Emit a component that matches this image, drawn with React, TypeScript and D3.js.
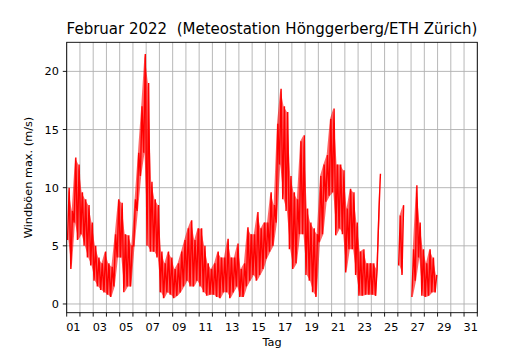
import React from 'react';
import * as d3 from 'd3';

// Day boundaries (Feb 1 = 1 ... Mar 4 = 32), labelled days, y ticks
const dayTicks: number[] = d3.range(1, 33);
const labelDays: number[] = d3.range(1, 32, 2);
const yTicks: number[] = [0, 5, 10, 15, 20];

// Wind gust envelope, 4 bins per day (00-06, 06-12, 12-18, 18-24 h), Feb 1 .. Feb 28
const gustLow: (number | null)[] = [
  5.5, 3, 7, 5.5,
  6, 5, 4, 3.3,
  2, 1.5, 1.2, 1,
  0.8, 0.6, 1.5, 4,
  4, 1, 1.5, 1.5,
  5, 8, 11, 13,
  5, 4.5, 4.5, 4,
  1, 0.5, 1, 0.8,
  0.5, 0.7, 1, 1.5,
  2, 1.5, 1.5, 2,
  1.5, 1, 0.7, 0.8,
  0.8, 0.6, 0.5, 1,
  1, 0.5, 1, 1.5,
  0.6, 0.6, 1.5, 2,
  2.5, 2, 2.5, 3,
  3.9, 4.5, 5, 7,
  12, 9, 8, 4.7,
  3, 3.5, 6, 6,
  2.5, 2, 1, 0.6,
  5.3, 6, 8.8, 9.3,
  9.6, 5.9, 6.5, 6,
  2.7, 4.7, 4.7, 2.5,
  0.7, 0.7, 0.8, 0.8,
  0.8, 0.7, 7.6, null,
  null, null, null, null,
  3.3, 2.5, null, null,
  0.6, 2, 4, 0.7,
  0.6, 0.7, 1, 1,
];
const gustHigh: (number | null)[] = [
  10, 8, 12.6, 12,
  9.6, 9, 8.5, 7,
  5, 4, 3.5, 4.5,
  3.5, 3.2, 6, 9,
  8.7, 6, 5.9, 5,
  9, 13, 17, 21.5,
  19, 10.5, 9, 8.5,
  4.5, 3.5, 4.5, 4,
  3, 3.5, 4.5, 5.5,
  6.5, 7.2, 5.5, 6.5,
  6.5, 5, 3.5, 3,
  3.5, 4.5, 4, 4,
  5.6, 4, 4, 5.2,
  3, 3.5, 6.6, 6,
  6, 7.9, 6.5, 7,
  7, 9.6, 8.5, 15.5,
  18.5, 17, 16.5, 11,
  9.6, 9, 14, 14.5,
  8.2, 7, 6.5, 6,
  11, 12, 12.8, 15.9,
  16.8, 12, 12, 11.5,
  8.2, 9.9, 9.6, 7,
  4.5, 4.7, 3.5, 3.5,
  3.5, 3, 11.2, null,
  null, null, null, null,
  7.6, 8.5, null, null,
  4.7, 10.2, 7, 4.7,
  3.5, 4.7, 4, 2.5,
];

type Bin = { t: number; lo: number | null; hi: number | null };
type Pt = { t: number; v: number | null };

export default function App() {
  const W = 530, H = 350;
  const left = 66.7, right = 477.3, top = 42.3, bottom = 312.7;
  const x = d3.scaleLinear().domain([1, 32]).range([left, right]);
  const y = d3.scaleLinear().domain([-0.75, 22.5]).range([bottom, top]);

  const bins: Bin[] = gustLow.map((lo, i) => ({ t: 1 + i * 0.25 + 0.125, lo, hi: gustHigh[i] }));
  const pts: Pt[] = [];
  gustLow.forEach((lo, i) => {
    const t = 1 + i * 0.25;
    pts.push({ t: t + 0.0625, v: lo });
    pts.push({ t: t + 0.1875, v: gustHigh[i] });
  });
  const line = d3
    .line<Pt>()
    .defined((d) => d.v != null)
    .x((d) => x(d.t))
    .y((d) => y(d.v as number));
  const band = d3
    .area<Bin>()
    .defined((d) => d.lo != null && d.hi != null)
    .x((d) => x(d.t))
    .y0((d) => y(d.lo as number))
    .y1((d) => y(d.hi as number));

  const font = "'DejaVu Sans', sans-serif";
  const grid = '#b0b0b0';

  return (
    <div style={{ position: 'fixed', left: 0, top: 0 }}>
      <svg width={W} height={H} viewBox={`0 0 ${W} ${H}`} style={{ display: 'block', background: '#fff' }}>
        <rect x={0} y={0} width={W} height={H} fill="#fff" />
        <defs>
          <clipPath id="plotclip">
            <rect x={left} y={top} width={right - left} height={bottom - top} />
          </clipPath>
        </defs>
        {/* grid */}
        {dayTicks.map((d) => (
          <line key={'gx' + d} x1={x(d)} x2={x(d)} y1={top} y2={bottom} stroke={grid} strokeWidth={0.9} />
        ))}
        {yTicks.map((v) => (
          <line key={'gy' + v} x1={left} x2={right} y1={y(v)} y2={y(v)} stroke={grid} strokeWidth={0.9} />
        ))}
        {/* data */}
        <g clipPath="url(#plotclip)">
          <path d={band(bins) || ''} fill="#ff0000" fillOpacity={0.6} stroke="none" />
          <path d={line(pts) || ''} fill="none" stroke="#ff0000" strokeWidth={1.4} strokeLinejoin="miter" />
        </g>
        {/* spines */}
        <rect x={left} y={top} width={right - left} height={bottom - top} fill="none" stroke="#000" strokeWidth={0.9} />
        {/* x ticks */}
        {dayTicks.map((d) => (
          <line key={'tx' + d} x1={x(d)} x2={x(d)} y1={bottom} y2={bottom + 3.9} stroke="#000" strokeWidth={0.9} />
        ))}
        {labelDays.map((d) => (
          <text key={'lx' + d} x={x(d + 0.5)} y={331} textAnchor="middle" fontFamily={font} fontSize={11.3} fill="#000">
            {d3.format('02d')(d)}
          </text>
        ))}
        {/* y ticks */}
        {yTicks.map((v) => (
          <g key={'ty' + v}>
            <line x1={left - 3.9} x2={left} y1={y(v)} y2={y(v)} stroke="#000" strokeWidth={0.9} />
            <text x={left - 7.8} y={y(v)} dy="0.36em" textAnchor="end" fontFamily={font} fontSize={11.3} fill="#000">
              {v}
            </text>
          </g>
        ))}
        {/* labels */}
        <text x={(left + right) / 2} y={346.4} textAnchor="middle" fontFamily={font} fontSize={11.3} fill="#000">
          Tag
        </text>
        <text
          transform={`translate(31.5,${(top + bottom) / 2}) rotate(-90)`}
          textAnchor="middle"
          fontFamily={font}
          fontSize={11.3}
          fill="#000"
        >
          Windböen max. (m/s)
        </text>
        <text
          x={(left + right) / 2}
          y={33.6}
          textAnchor="middle"
          fontFamily={font}
          fontSize={15}
          fill="#000"
          style={{ whiteSpace: 'pre' }}
        >
          {'Februar 2022  (Meteostation Hönggerberg/ETH Zürich)'}
        </text>
      </svg>
    </div>
  );
}
